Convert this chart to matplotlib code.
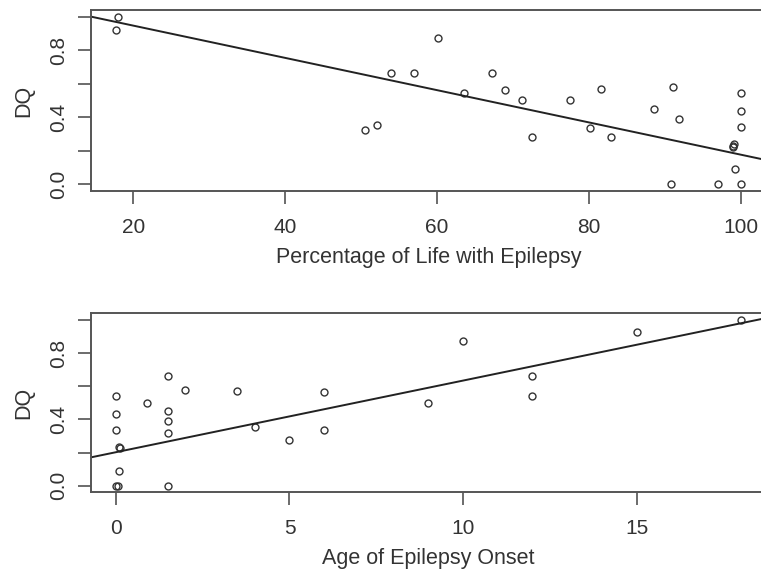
import numpy as np
import matplotlib
matplotlib.use("Agg")
import matplotlib.pyplot as plt

plt.rcParams['font.family'] = ['Liberation Sans', 'DejaVu Sans']

# top panel: percentage of life with epilepsy vs DQ
pct_life = [17.9, 17.7, 50.5, 52.1, 60.1, 53.9, 57.0, 63.6, 67.3, 68.9,
            71.2, 72.5, 77.5, 80.2, 81.6, 82.9, 88.6, 91.1, 91.9, 90.8,
            97.0, 99.0, 99.0, 99.1, 99.2, 100.0, 100.0, 100.0, 100.0]
dq_top = [1.0, 0.92, 0.324, 0.356, 0.87, 0.664, 0.664, 0.544, 0.664, 0.564,
          0.504, 0.28, 0.50, 0.336, 0.57, 0.28, 0.45, 0.58, 0.39, 0.0,
          0.0, 0.23, 0.22, 0.24, 0.09, 0.0, 0.544, 0.436, 0.34]

# bottom panel: age of onset vs DQ
age_onset = [0.0, 0.0, 0.0, 0.1, 0.12, 0.09, 0.0, 0.05, 0.9, 1.5,
             1.5, 1.5, 1.5, 1.5, 2.0, 3.5, 4.0, 5.0, 6.0, 6.0,
             9.0, 10.0, 12.0, 12.0, 15.0, 18.0]
dq_bottom = [0.543, 0.432, 0.338, 0.233, 0.225, 0.086, 0.0, 0.0, 0.50, 0.663,
             0.452, 0.392, 0.318, 0.0, 0.579, 0.573, 0.354, 0.277, 0.563, 0.338,
             0.499, 0.875, 0.663, 0.543, 0.925, 1.0]

# fitted lines (intercept, slope)
fit_top = (1.139, -0.00962)
fit_bottom = (0.202, 0.0432)

W, H = 761, 575
fig = plt.figure(figsize=(W / 100, H / 100), dpi=100)

ax1 = fig.add_axes([91 / W, 1 - 191 / H, 674.6 / W, 181 / H])
ax2 = fig.add_axes([91 / W, 1 - 492.3 / H, 674.6 / W, 179 / H])

TXT = '#333333'


def panel(ax, x, y, fit, xlabel, xticks):
    x = np.array(x)
    ax.plot(x, y, linestyle='none', marker='o', markersize=5,
            markerfacecolor='none', markeredgecolor='#333333', markeredgewidth=1.0)
    pad = 0.04 * (x.max() - x.min())
    xlim = (x.min() - pad, x.max() + pad)
    xs = np.array(xlim)
    ax.plot(xs, fit[0] + fit[1] * xs, color='#222222', lw=1.4)
    ax.set_xlim(*xlim)
    ax.set_ylim(-0.04, 1.04)
    ax.set_xticks(xticks)
    ax.set_yticks([0.0, 0.2, 0.4, 0.6, 0.8, 1.0])
    ax.set_yticklabels(['0.0', '', '0.4', '', '0.8', ''])
    for lab in ax.get_yticklabels():
        lab.set_rotation(90)
        lab.set_va('center')
    ax.tick_params(direction='out', length=9.5, width=1.1, color='#444444',
                   labelsize=15, labelcolor=TXT)
    ax.tick_params(axis='x', pad=10)
    ax.tick_params(axis='y', pad=7)
    for s in ax.spines.values():
        s.set_color('#555555')
        s.set_linewidth(1.4)
    ax.set_xlabel(xlabel, fontsize=15.5, color=TXT, labelpad=7)
    ax.set_ylabel('DQ', fontsize=15.5, color=TXT, labelpad=11)


panel(ax1, pct_life, dq_top, fit_top, 'Percentage of Life with Epilepsy', [20, 40, 60, 80, 100])
panel(ax2, age_onset, dq_bottom, fit_bottom, 'Age of Epilepsy Onset', [0, 5, 10, 15])

fig.savefig('out.png', dpi=100)
